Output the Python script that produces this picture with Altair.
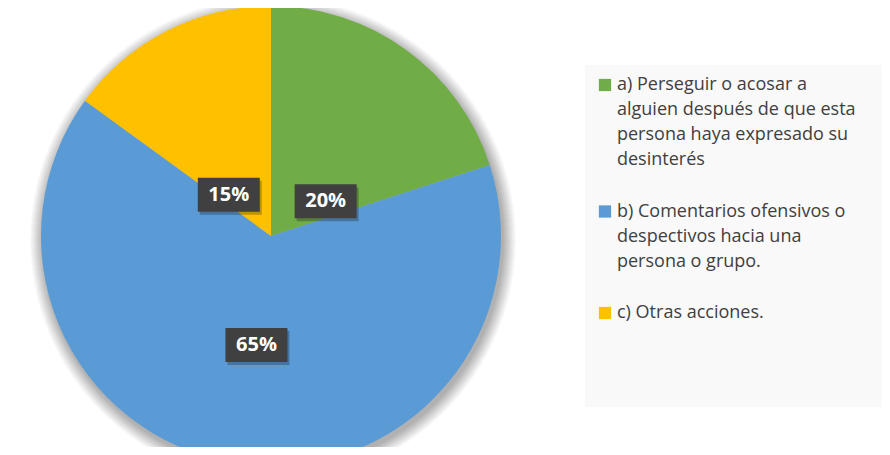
import altair as alt
import pandas as pd

# ---- data ----
categories = [
    "a) Perseguir o acosar a alguien después de que esta persona haya expresado su desinterés",
    "b) Comentarios ofensivos o despectivos hacia una persona o grupo.",
    "c) Otras acciones.",
]
values = [20, 65, 15]
labels = ["20%", "65%", "15%"]
colors = ["#70ad47", "#5b9bd5", "#ffc000"]
legend_lines = [
    ["a) Perseguir o acosar a", "alguien después de que esta", "persona haya expresado su", "desinterés"],
    ["b) Comentarios ofensivos o", "despectivos hacia una", "persona o grupo."],
    ["c) Otras acciones."],
]

# ---- layout constants ----
CX, CY, R = 263, 228, 230
LRX, LRY, LDY = 93, 80, 30
W, H = 874, 439

pie_df = pd.DataFrame({"cat": categories, "value": values, "label": labels, "idx": list(range(len(values)))})

color_scale = alt.Scale(domain=categories, range=colors)

base = alt.Chart(pie_df)

# soft shadow (stacked translucent discs)
shadows = [
    alt.Chart(pie_df).mark_arc(theta=0, theta2=6.2832, radius=R + k, color="#000000", opacity=0.009)
    .encode(x=alt.value(CX + 2), y=alt.value(CY + 4))
    for k in range(1, 14)
]

pie = base.mark_arc(radius=R).encode(
    theta=alt.Theta("value:Q", stack=True),
    color=alt.Color("cat:N", scale=color_scale, legend=None),
    order=alt.Order("idx:Q"),
    x=alt.value(CX),
    y=alt.value(CY),
)

lab_base = base.transform_joinaggregate(total="sum(value)").transform_window(
    cum="sum(value)", sort=[alt.SortField("idx")]
).transform_calculate(
    mid="(datum.cum - datum.value/2) / datum.total * 2 * PI",
).transform_calculate(
    px=f"{CX} + {LRX} * sin(datum.mid)",
    py=f"{CY} + {LDY} - {LRY} * cos(datum.mid)",
)

box_path = "M-1,-0.55L1,-0.55L1,0.55L-1,0.55Z"
BOX = 62
box_shadow = lab_base.transform_calculate(sx="datum.px + 2", sy="datum.py + 3").mark_point(
    shape=box_path, size=BOX * BOX, filled=True, color="#000000", opacity=0.25
).encode(x=alt.X("sx:Q", scale=None, axis=None), y=alt.Y("sy:Q", scale=None, axis=None))
boxes = lab_base.mark_point(shape=box_path, size=BOX * BOX, filled=True, color="#404040", opacity=1).encode(
    x=alt.X("px:Q", scale=None, axis=None), y=alt.Y("py:Q", scale=None, axis=None)
)
texts = lab_base.mark_text(font="Open Sans", fontSize=20, fontWeight="bold", color="white", baseline="middle", align="center").encode(
    x=alt.X("px:Q", scale=None, axis=None), y=alt.Y("py:Q", scale=None, axis=None), text="label:N"
)

# ---- legend (manual) ----
LX_SYM, LX_TXT, LY0, LSTEP, LGAP = 597, 609, 77, 25, 26.5
rows = []
g = 0
for i, lines in enumerate(legend_lines):
    for j, t in enumerate(lines):
        rows.append({"cat": categories[i], "item": i, "line": j, "gline": g, "text": t})
        g += 1
leg_df = pd.DataFrame(rows)
leg_df["ly"] = LY0 + leg_df["gline"] * LSTEP + leg_df["item"] * LGAP

leg_bg = alt.Chart(pd.DataFrame({"a": [0]})).mark_rect(color="#f9f9f9").encode(
    x=alt.value(577), x2=alt.value(W), y=alt.value(57), y2=alt.value(399)
)
leg_sym = alt.Chart(leg_df).transform_filter("datum.line == 0").transform_calculate(lx=str(LX_SYM)).mark_point(
    shape="square", filled=True, size=150, opacity=1
).encode(
    x=alt.X("lx:Q", scale=None, axis=None), y=alt.Y("ly:Q", scale=None, axis=None),
    color=alt.Color("cat:N", scale=color_scale, legend=None),
)
leg_txt = alt.Chart(leg_df).transform_calculate(lx=str(LX_TXT)).mark_text(
    font="Open Sans", fontSize=18, color="#404040", align="left", baseline="middle"
).encode(
    x=alt.X("lx:Q", scale=None, axis=None), y=alt.Y("ly:Q", scale=None, axis=None), text="text:N"
)

chart = alt.layer(*shadows, pie, box_shadow, boxes, texts, leg_bg, leg_sym, leg_txt).properties(
    width=W, height=H, padding=0, autosize=alt.AutoSizeParams(type="none")
).configure_view(stroke=None).resolve_scale(color="shared")

chart.save("out.html", embed_options={"renderer": "svg", "actions": False})
